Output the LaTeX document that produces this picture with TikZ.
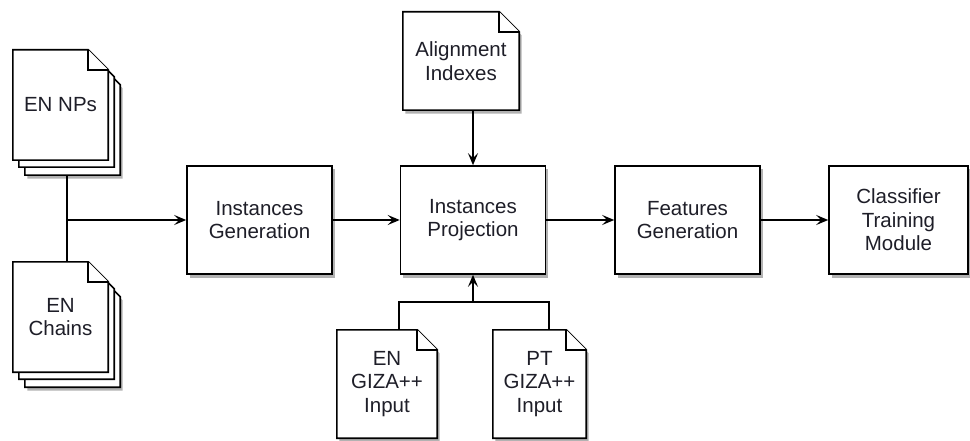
\documentclass[tikz,border=0pt]{standalone}
\usepackage{fontspec}
\setmainfont{Liberation Sans}
\usetikzlibrary{positioning, arrows.meta, shadows, backgrounds, calc}
\definecolor{inkDark}{HTML}{1E1E28}
\colorlet{mShadow}{black}
\def\foldsz{20}

\newcommand\pageshape[4][]{%
  \filldraw[docline,#1]
    ([shift={(#3,#4)}]#2.north west) -- ([shift={(#3-\foldsz,#4)}]#2.north east)
    -- ([shift={(#3,#4+\foldsz)}]#2.north east) -- ([shift={(#3,#4)}]#2.south east)
    -- ([shift={(#3,#4)}]#2.south west) -- cycle;
}
\newcommand\foldmark[1]{%
  \draw[docline] ([xshift=-\foldsz pt]#1.north east) |- ([yshift=-\foldsz pt]#1.north east);
}

\begin{document}
\begin{tikzpicture}[
  x=1pt, y=-1pt,
  every node/.style={font=\fontsize{20.5}{23.5}\selectfont, text=inkDark, align=center, inner sep=0pt},
  shade box/.style={drop shadow={shadow xshift=2.5pt, shadow yshift=-3.5pt, fill=mShadow, opacity=0.3}},
  stage/.style={draw, line width=1.6pt, fill=white, shade box, minimum width=145pt, minimum height=108pt},
  doc/.style={minimum width=95pt, minimum height=110pt},
  docline/.style={line width=1.6pt, fill=white, line join=miter},
  wire/.style={line width=1.6pt},
  arrow/.style={wire, -{Stealth[length=12pt, width=10pt, inset=5pt]}},
]
  \useasboundingbox (0,0) rectangle (970,441);

  \node[doc] (nps) at (60.5,105) {EN NPs};
  \node[doc] (chains) at (60.5,317) {EN\\Chains};
  \node[doc, minimum width=116pt, minimum height=98pt] (align) at (461,61) {Alignment\\Indexes};
  \node[doc, minimum width=100pt, minimum height=108pt] (enGiza) at (387,384) {EN\\GIZA++\\Input};
  \node[doc, minimum width=93pt, minimum height=108pt] (ptGiza) at (539.5,384) {PT\\GIZA++\\Input};

  \node[stage] (igen) at (259.5,220) {Instances\\Generation};
  \node[stage] (iproj) at (473,220) {Instances\\Projection};
  \node[stage] (fgen) at (687.5,220) {Features\\Generation};
  \node[stage, minimum width=139pt] (ctm) at (898.5,220) {Classifier\\Training\\Module};

  \coordinate (join) at (67,220);
  \coordinate (gizaJoin) at (473,302);

  \begin{pgfonlayer}{background}
    \draw[wire] (join |- nps.center) -- (join |- chains.north);
    \pageshape[shade box]{nps}{12}{15}
    \pageshape{nps}{6}{7}
    \pageshape{nps}{0}{0}
    \foldmark{nps}
    \pageshape[shade box]{chains}{12}{15}
    \pageshape{chains}{6}{7}
    \pageshape{chains}{0}{0}
    \foldmark{chains}
    \pageshape[shade box]{align}{0}{0}
    \foldmark{align}
    \pageshape[shade box]{enGiza}{0}{0}
    \foldmark{enGiza}
    \pageshape[shade box]{ptGiza}{0}{0}
    \foldmark{ptGiza}
  \end{pgfonlayer}

  \draw[arrow] (join) -- (igen.west);
  \draw[arrow] (igen) -- (iproj);
  \draw[arrow] (iproj) -- (fgen);
  \draw[arrow] (fgen) -- (ctm);
  \draw[arrow] (align.south -| iproj.north) -- (iproj.north);
  \draw[wire] ([xshift=12pt]enGiza.north) |- (gizaJoin) -| ([xshift=9.5pt]ptGiza.north);
  \draw[arrow] (gizaJoin) -- (iproj.south);
\end{tikzpicture}
\end{document}
